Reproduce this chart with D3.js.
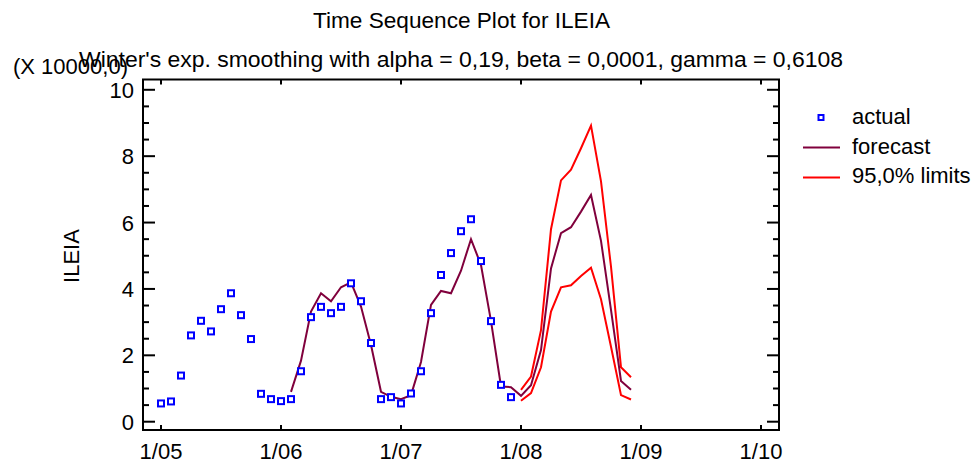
<!DOCTYPE html>
<html><head><meta charset="utf-8">
<script src="https://cdn.jsdelivr.net/npm/d3@7"></script>
<style>body{margin:0;background:#fff}svg{display:block}text{font-family:"Liberation Sans",Arial,sans-serif;fill:#000}</style>
</head><body><svg id="c" width="979" height="464"></svg>
<script>
const xTickMonths = [0, 12, 24, 36, 48, 60];
const xTickLabels = ["1/05", "1/06", "1/07", "1/08", "1/09", "1/10"];
const yTicks = [0, 2, 4, 6, 8, 10];
const actualStart = 0;
const actual = [0.55,0.61,1.39,2.60,3.04,2.72,3.39,3.87,3.21,2.49,0.84,0.68,0.62,0.68,1.52,3.15,3.46,3.27,3.46,4.17,3.63,2.37,0.68,0.74,0.55,0.85,1.52,3.27,4.42,5.08,5.74,6.10,4.84,3.03,1.11,0.74];
const forecastStart = 13;
const forecast = [0.90,1.84,3.32,3.87,3.63,4.05,4.20,3.47,2.31,0.90,0.75,0.68,0.80,1.80,3.52,3.94,3.87,4.55,5.50,4.72,3.03,1.06,1.04,
                  0.78,1.10,2.16,4.62,5.68,5.86,6.33,6.83,5.45,3.37,1.23,0.96];
const limitStart = 36;
const upper = [0.96,1.36,2.76,5.80,7.27,7.59,8.24,8.92,7.24,4.67,1.64,1.34];
const lower = [0.63,0.86,1.64,3.32,4.05,4.11,4.39,4.64,3.69,2.26,0.80,0.67];

const svg = d3.select("#c");
const L = 143, R = 779, T = 79.5, B = 430;
const x = d3.scaleLinear().domain([-1.8, 61.8]).range([L, R]);
const y = d3.scaleLinear().domain([-0.25, 10.31]).range([B, T]);
const FS = "22px";

// titles
svg.append("text").attr("x", 461.5).attr("y", 28).attr("text-anchor", "middle").style("font-size", FS)
  .attr("textLength", 297).attr("lengthAdjust", "spacingAndGlyphs").text("Time Sequence Plot for ILEIA");
svg.append("text").attr("x", 461).attr("y", 67).attr("text-anchor", "middle").style("font-size", FS)
  .attr("textLength", 764).attr("lengthAdjust", "spacingAndGlyphs").text("Winter's exp. smoothing with alpha = 0,19, beta = 0,0001, gamma = 0,6108");
svg.append("text").attr("x", 13).attr("y", 74).style("font-size", FS).text("(X 10000,0)");
svg.append("text").attr("transform", "translate(79,256) rotate(-90)").attr("text-anchor", "middle").style("font-size", FS).text("ILEIA");

// axes ticks
const g = svg.append("g");
const minor = d3.range(0, 10.01, 0.5);
minor.forEach(v => {
  const isMajor = Math.abs(v % 2) < 1e-9;
  const len = isMajor ? 12 : 6;
  g.append("line").attr("x1", L).attr("x2", L + len).attr("y1", y(v)).attr("y2", y(v)).attr("stroke", "#000").attr("stroke-width", 2);
  g.append("line").attr("x1", R).attr("x2", R - len).attr("y1", y(v)).attr("y2", y(v)).attr("stroke", "#000").attr("stroke-width", 2);
});
yTicks.forEach(v => {
  svg.append("text").attr("x", 134).attr("y", y(v) + 8).attr("text-anchor", "end").style("font-size", FS).text(v);
});
xTickMonths.forEach((m, i) => {
  g.append("line").attr("x1", x(m)).attr("x2", x(m)).attr("y1", B).attr("y2", B - 5).attr("stroke", "#000").attr("stroke-width", 2);
  g.append("line").attr("x1", x(m)).attr("x2", x(m)).attr("y1", T).attr("y2", T + 5).attr("stroke", "#000").attr("stroke-width", 2);
  svg.append("text").attr("x", x(m)).attr("y", 459).attr("text-anchor", "middle").style("font-size", FS).text(xTickLabels[i]);
});
svg.append("rect").attr("x", L).attr("y", T).attr("width", R - L).attr("height", B - T).attr("fill", "none").attr("stroke", "#000").attr("stroke-width", 2);

// lines
const line = d3.line().x(d => x(d[0])).y(d => y(d[1]));
const series = (arr, start) => arr.map((v, i) => [start + i, v]);
svg.append("path").attr("d", line(series(upper, limitStart))).attr("fill", "none").attr("stroke", "#ff0000").attr("stroke-width", 2);
svg.append("path").attr("d", line(series(lower, limitStart))).attr("fill", "none").attr("stroke", "#ff0000").attr("stroke-width", 2);
svg.append("path").attr("d", line(series(forecast, forecastStart))).attr("fill", "none").attr("stroke", "#80003c").attr("stroke-width", 2);

// points
svg.selectAll("rect.pt").data(series(actual, actualStart)).enter().append("rect").attr("class", "pt")
  .attr("x", d => x(d[0]) - 3).attr("y", d => y(d[1]) - 3).attr("width", 6).attr("height", 6)
  .attr("fill", "#fff").attr("stroke", "#0000ff").attr("stroke-width", 2);

// legend
const lg = svg.append("g");
lg.append("rect").attr("x", 818.5).attr("y", 115).attr("width", 5).attr("height", 5).attr("fill", "#fff").attr("stroke", "#0000ff").attr("stroke-width", 2);
lg.append("text").attr("x", 852).attr("y", 124).style("font-size", FS).text("actual");
lg.append("line").attr("x1", 803).attr("x2", 840).attr("y1", 147.5).attr("y2", 147.5).attr("stroke", "#80003c").attr("stroke-width", 2);
lg.append("text").attr("x", 852).attr("y", 154).style("font-size", FS).text("forecast");
lg.append("line").attr("x1", 803).attr("x2", 840).attr("y1", 177.5).attr("y2", 177.5).attr("stroke", "#ff0000").attr("stroke-width", 2);
lg.append("text").attr("x", 852).attr("y", 183).style("font-size", FS).text("95,0% limits");
</script></body></html>
